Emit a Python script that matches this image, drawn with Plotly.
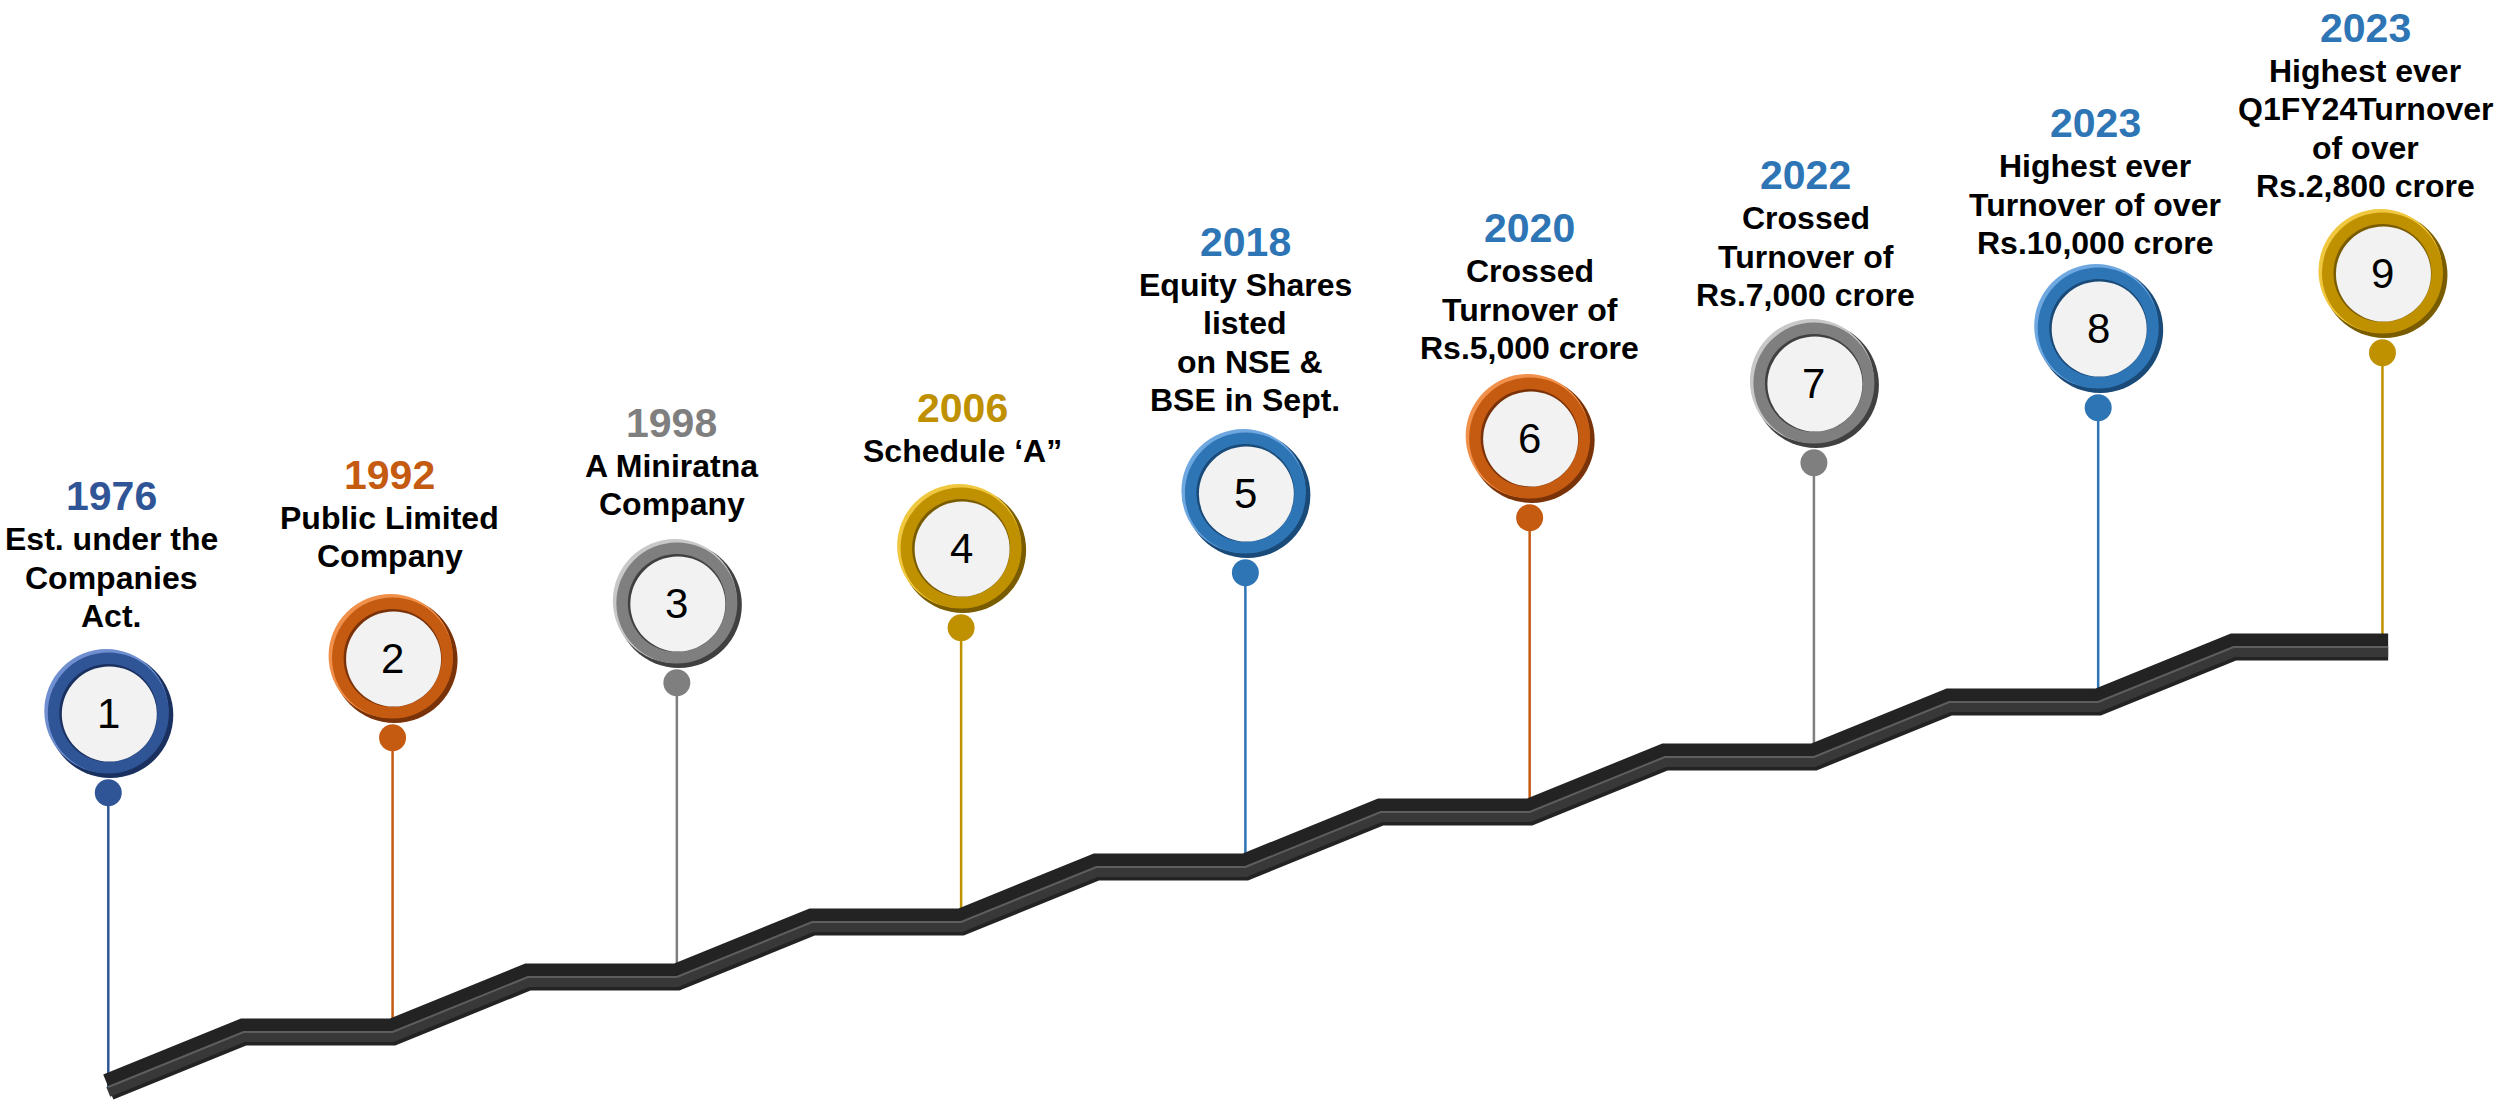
import plotly.graph_objects as go

# ---------------- data ----------------
milestones = [1, 2, 3, 4, 5, 6, 7, 8, 9]
years = ["1976", "1992", "1998", "2006", "2018", "2020", "2022", "2023", "2023"]
descriptions = [
    ["Est. under the", "Companies", "Act."],
    ["Public Limited", "Company"],
    ["A Miniratna", "Company"],
    ["Schedule \u2018A\u201d"],
    ["Equity Shares", "listed", " on NSE &", "BSE in Sept."],
    ["Crossed", "Turnover of", "Rs.5,000 crore"],
    ["Crossed", "Turnover of", "Rs.7,000 crore"],
    ["Highest ever", "Turnover of over", "Rs.10,000 crore"],
    ["Highest ever", "Q1FY24Turnover", "of over", "Rs.2,800 crore"],
]
step_levels = [0, 1, 2, 3, 4, 5, 6, 7, 8]

# ---------------- styles ----------------
ring_colors = ["#2F5597", "#C55A11", "#7F7F7F", "#BF9000", "#2E75B6",
               "#C55A11", "#7F7F7F", "#2E75B6", "#BF9000"]
ring_light = ["#6F8FD0", "#F0904A", "#C8C8C8", "#F0C840", "#6FA8E0",
              "#F0904A", "#C8C8C8", "#6FA8E0", "#F0C840"]
ring_dark = ["#1A3160", "#7A3208", "#404040", "#7A5C00", "#1A4A78",
             "#7A3208", "#404040", "#1A4A78", "#7A5C00"]
year_colors = ["#2F5597", "#C55A11", "#7F7F7F", "#BF9000", "#2E75B6",
               "#2E75B6", "#2E75B6", "#2E75B6", "#2E75B6"]
# pixel distance from circle centre up to centre of last description line
label_gap_px = [97, 102, 99, 97, 93, 90, 88, 85, 87]
# horizontal nudge of the label block relative to its circle (px)
label_xshift_px = [3, -3, -5, 1, 0, 0, -8, -3, -17]

CIRCLE_OFFSET = 6.8   # circle centre above its step (in step units)
DOT_OFFSET = 5.35     # small dot above its step
DIAG = 0.476          # horizontal share of the rising part of each step
LINE_H = 38.5         # description line height px
YEAR_GAP = 43         # year centre above first description line centre

FONT = "Liberation Sans, Arial, sans-serif"
px_x = 284.27         # px per milestone unit
px_y = 55.0           # px per step unit
LEFT_PX = 108.3       # pixel position of the first milestone
BASE_PX = 1087        # pixel position of step level 0

fig = go.Figure()

# vertical connector lines
for i, lvl, c in zip(milestones, step_levels, ring_colors):
    fig.add_trace(go.Scatter(x=[i, i], y=[lvl + DOT_OFFSET, lvl], mode="lines",
                             line=dict(color=c, width=2.5), hoverinfo="skip"))

# staircase
sx, sy = [milestones[0]], [step_levels[0]]
for i, lvl in zip(milestones[1:], step_levels[1:]):
    sx += [i - 1 + DIAG, i]
    sy += [lvl, lvl]
sx[-1] += 0.02
fig.add_trace(go.Scatter(x=sx, y=sy, mode="lines",
                         line=dict(color="#232323", width=27), hoverinfo="skip"))
fig.add_trace(go.Scatter(x=sx, y=[v - 5 / px_y for v in sy], mode="lines",
                         line=dict(color="#383838", width=10), hoverinfo="skip"))
fig.add_trace(go.Scatter(x=sx, y=sy, mode="lines",
                         line=dict(color="#5E5E5E", width=2), hoverinfo="skip"))

# dots
cy = [l + CIRCLE_OFFSET for l in step_levels]
dy = [l + DOT_OFFSET for l in step_levels]
fig.add_trace(go.Scatter(x=milestones, y=dy, mode="markers",
                         marker=dict(size=27, color=ring_colors, line=dict(width=0)),
                         hoverinfo="skip"))

# rings: dark shadow, light highlight, base, inner disk
sh = 2.0
fig.add_trace(go.Scatter(x=[m + sh / px_x for m in milestones], y=[v - sh / px_y for v in cy],
                         mode="markers",
                         marker=dict(size=126, color=ring_dark, line=dict(width=0)),
                         hoverinfo="skip"))
fig.add_trace(go.Scatter(x=[m - sh / px_x for m in milestones], y=[v + sh / px_y for v in cy],
                         mode="markers",
                         marker=dict(size=124, color=ring_light, line=dict(width=0)),
                         hoverinfo="skip"))
fig.add_trace(go.Scatter(x=milestones, y=cy, mode="markers",
                         marker=dict(size=121, color=ring_colors, line=dict(width=0)),
                         hoverinfo="skip"))
fig.add_trace(go.Scatter(x=milestones, y=cy, mode="markers",
                         marker=dict(size=98, color=ring_dark, line=dict(width=0)),
                         hoverinfo="skip"))
fig.add_trace(go.Scatter(x=[m + 1 / px_x for m in milestones], y=[v - 1 / px_y for v in cy],
                         mode="markers",
                         marker=dict(size=95, color="#F2F2F2", line=dict(width=0)),
                         hoverinfo="skip"))

annotations = []
for i, lvl, yr, desc, yc, gap, xs in zip(milestones, cy, years, descriptions, year_colors,
                                         label_gap_px, label_xshift_px):
    n = len(desc)
    annotations.append(dict(
        x=i, y=lvl, xref="x", yref="y", text=str(i), showarrow=False,
        font=dict(family=FONT, size=42, color="#000000"),
        xanchor="center", yanchor="middle"))
    for j, line in enumerate(desc):
        annotations.append(dict(
            x=i, y=lvl, xref="x", yref="y", text=line, showarrow=False,
            font=dict(family=FONT, size=32, color="#000000", weight="bold"),
            xanchor="center", yanchor="middle", align="center",
            xshift=xs, yshift=gap + (n - 1 - j) * LINE_H))
    annotations.append(dict(
        x=i, y=lvl, xref="x", yref="y", text=yr, showarrow=False,
        font=dict(family=FONT, size=41, color=yc, weight="bold"),
        xanchor="center", yanchor="middle",
        xshift=xs, yshift=gap + (n - 1) * LINE_H + YEAR_GAP))

x0 = milestones[0] - LEFT_PX / px_x
x1 = milestones[0] + (2496 - LEFT_PX) / px_x
y0 = step_levels[0] - (1102 - BASE_PX) / px_y
y1 = step_levels[0] + BASE_PX / px_y

fig.update_layout(
    width=2496, height=1102,
    margin=dict(l=0, r=0, t=0, b=0),
    paper_bgcolor="white", plot_bgcolor="white",
    showlegend=False, hovermode=False,
    xaxis=dict(range=[x0, x1], visible=False, fixedrange=True),
    yaxis=dict(range=[y0, y1], visible=False, fixedrange=True),
    annotations=annotations,
)

fig.write_html("out.html", config={"displayModeBar": False},
               post_script="document.body.style.margin='0px';document.body.style.overflow='hidden';")
